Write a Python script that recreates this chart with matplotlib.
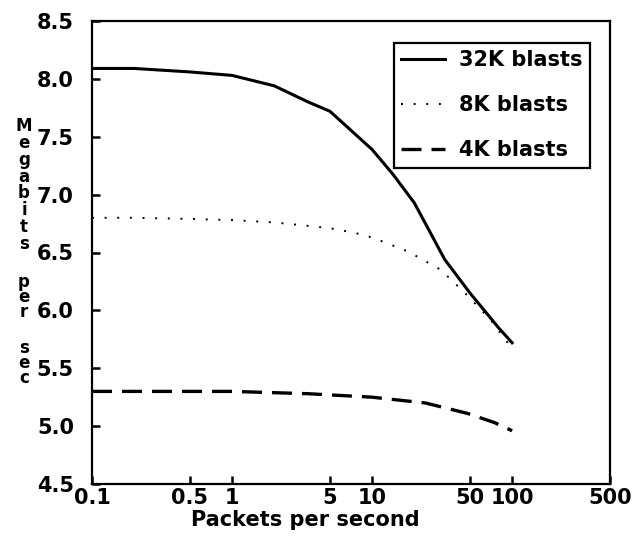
import numpy as np
import matplotlib
matplotlib.use('Agg')
import matplotlib.pyplot as plt

# data
x32 = [0.1, 0.2, 0.5, 1, 2, 3.5, 5, 10, 14, 20, 33, 50, 80, 100]
y32 = [8.09, 8.09, 8.06, 8.03, 7.94, 7.80, 7.72, 7.39, 7.18, 6.93, 6.44, 6.15, 5.85, 5.72]

x8 = [0.1, 0.2, 0.5, 1, 2, 3.5, 5, 7.5, 10, 18, 31, 46, 70, 100]
y8 = [6.80, 6.80, 6.79, 6.78, 6.76, 6.73, 6.71, 6.67, 6.63, 6.51, 6.35, 6.15, 5.92, 5.67]

x4 = [0.1, 0.5, 1, 3.5, 10, 24, 48, 75, 100]
y4 = [5.30, 5.30, 5.30, 5.28, 5.25, 5.20, 5.11, 5.03, 4.96]

xticks = [0.1, 0.5, 1, 5, 10, 50, 100, 500]
xticklabels = ['0.1', '0.5', '1', '5', '10', '50', '100', '500']
yticks = [4.5, 5.0, 5.5, 6.0, 6.5, 7.0, 7.5, 8.0, 8.5]

W, H = 634, 556
fig = plt.figure(figsize=(W / 100, H / 100), dpi=100)
ax = fig.add_axes([92 / W, 1 - 484 / H, (610 - 92) / W, (484 - 21) / H])

ax.plot(x32, y32, color='black', lw=2.2, linestyle='-', label='32K blasts')
ax.plot(x8, y8, color='black', lw=1.4, linestyle=(0, (1, 5.5)), label='8K blasts')
ax.plot(x4, y4, color='black', lw=2.4, linestyle=(0, (6, 3)), label='4K blasts')

ax.set_xscale('log')
ax.set_xlim(0.1, 500)
ax.set_ylim(4.5, 8.5)
ax.set_xticks(xticks)
ax.set_xticklabels(xticklabels)
ax.minorticks_off()
ax.set_yticks(yticks)
ax.set_yticklabels(['%.1f' % v for v in yticks])

for lab in ax.get_xticklabels() + ax.get_yticklabels():
    lab.set_fontsize(15)
    lab.set_fontweight('bold')
ax.tick_params(axis='both', direction='in', length=6, width=1.8)
ax.tick_params(axis='y', pad=13)
ax.tick_params(axis='x', pad=3)
for s in ax.spines.values():
    s.set_linewidth(1.6)

leg = ax.legend(loc='upper right', bbox_to_anchor=(590 / W, 1 - 43 / H),
                bbox_transform=fig.transFigure,
                prop={'size': 15, 'weight': 'bold'}, frameon=True, fancybox=False,
                edgecolor='black', framealpha=1, handlelength=2.1,
                handletextpad=0.7, labelspacing=1.2, borderpad=0.35,
                borderaxespad=0)
leg.get_frame().set_linewidth(1.6)

fig.text(305 / W, 1 - 510 / H, 'Packets per second', ha='center', va='top',
         fontsize=15, fontweight='bold')

# y label written as stacked letters, one text per word
fig.text(24 / W, 1 - 185 / H, '\n'.join('Megabits'), ha='center', va='center',
         multialignment='center', fontsize=12, fontweight='bold', linespacing=0.92)
fig.text(24 / W, 1 - 297 / H, '\n'.join('per'), ha='center', va='center',
         multialignment='center', fontsize=12, fontweight='bold', linespacing=0.8)
fig.text(24 / W, 1 - 363 / H, '\n'.join('sec'), ha='center', va='center',
         multialignment='center', fontsize=12, fontweight='bold', linespacing=0.8)

fig.savefig('out.png', dpi=100)
